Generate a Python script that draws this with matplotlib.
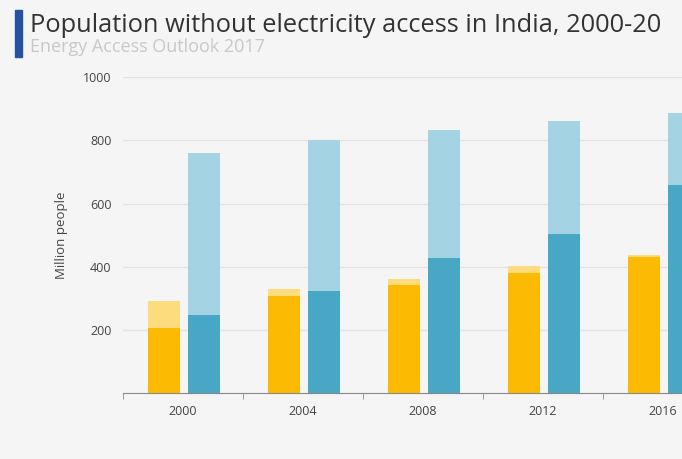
import matplotlib.pyplot as plt
import matplotlib.patches as patches

# values (million people)
years = ["2000", "2004", "2008", "2012", "2016"]
yellow_total = [292, 330, 360, 401, 437]
yellow_front = [205, 307, 342, 380, 432]
blue_total = [760, 802, 834, 862, 886]
blue_front = [247, 323, 427, 503, 658]

plt.rcParams['font.family'] = ['Open Sans', 'DejaVu Sans']

fig = plt.figure(figsize=(6.82, 4.59), dpi=100)
fig.patch.set_facecolor('#f5f5f5')
ax = fig.add_axes([0.180, 0.1438, 0.820, 0.688])
ax.set_facecolor('#f5f5f5')

x = list(range(len(years)))
w = 0.27
xy = [i - 0.158 for i in x]
xb = [i + 0.175 for i in x]

ax.bar(xy, yellow_total, width=w, color='#fddc7e', zorder=2)
ax.bar(xy, yellow_front, width=w, color='#fcba03', zorder=3)
ax.bar(xb, blue_total, width=w, color='#a4d3e3', zorder=2)
ax.bar(xb, blue_front, width=w, color='#47a7c5', zorder=3)

ax.set_yticks([200, 400, 600, 800, 1000])
ax.set_yticklabels(["200", "400", "600", "800", "1000"])
ax.set_xticks(x)
ax.set_xticklabels(years)
ax.set_xticks([i - 0.5 for i in range(6)], minor=True)
# limits after the ticks, the axis runs past the right edge
ax.set_ylim(0, 1000)
ax.set_xlim(-0.5, 4.16)
ax.tick_params(axis='x', which='major', length=0, pad=9, labelsize=9, labelcolor='#444444')
ax.tick_params(axis='x', which='minor', length=4, color='#888888', direction='out')
ax.tick_params(axis='y', length=0, pad=8, labelsize=9, labelcolor='#444444')
ax.grid(axis='y', color='#e2e2e2', linewidth=1, zorder=0)
for s in ['top', 'right', 'left']:
    ax.spines[s].set_visible(False)
ax.spines['bottom'].set_color('#888888')
ax.spines['bottom'].set_zorder(4)
ax.set_ylabel("Million people", fontsize=9.5, color='#444444')
ax.yaxis.set_label_coords(-0.098, 0.5)

# title block (the title runs off the right edge in the source image)
fig.patches.append(patches.Rectangle((0.022, 0.876), 0.010, 0.103, transform=fig.transFigure,
                                     color='#2552a0', figure=fig))
fig.text(0.044, 0.945, "Population without electricity access in India, 2000-20",
         fontsize=18.3, color='#333333', va='center', ha='left')
fig.text(0.044, 0.898, "Energy Access Outlook 2017", fontsize=13, color='#c8c8c8',
         va='center', ha='left')

fig.savefig("out.png", dpi=100, facecolor=fig.get_facecolor())
